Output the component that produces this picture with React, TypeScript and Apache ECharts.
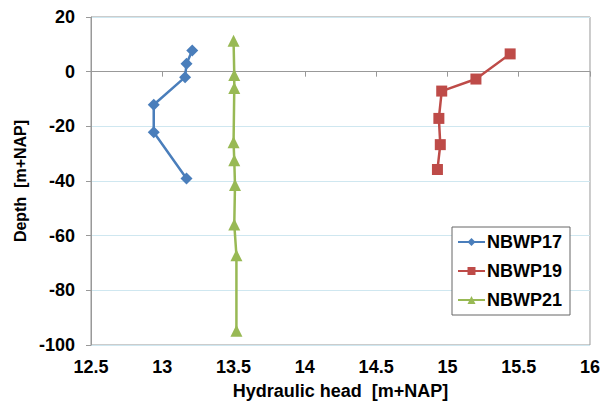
import React, { useEffect, useRef } from "react";
import * as echarts from "echarts";

const seriesNames = ["NBWP17", "NBWP19", "NBWP21"];
const nbwp17Head = [13.21, 13.17, 13.16, 12.94, 12.94, 13.17];
const nbwp17Depth = [7.7, 2.9, -2, -12.1, -22.2, -39.1];
const nbwp19Head = [15.44, 15.2, 14.96, 14.94, 14.95, 14.93];
const nbwp19Depth = [6.5, -2.7, -7.1, -17.1, -26.7, -35.8];
const nbwp21Head = [13.5, 13.505, 13.505, 13.5, 13.505, 13.51, 13.505, 13.52, 13.52];
const nbwp21Depth = [11.3, -1.2, -6, -25.8, -32.4, -41.5, -55.9, -67.2, -94.8];
const colors = ["#4a7ebb", "#be4b48", "#98b954"];
const symbols = ["diamond", "rect", "triangle"];

const pairs = (xs: number[], ys: number[]) => xs.map((x, i) => [x, ys[i]]);

export default function App() {
  const ref = useRef<HTMLDivElement>(null);
  useEffect(() => {
    const chart = echarts.init(ref.current!, null, { renderer: "svg" });
    const datasets = [
      pairs(nbwp17Head, nbwp17Depth),
      pairs(nbwp19Head, nbwp19Depth),
      pairs(nbwp21Head, nbwp21Depth),
    ];
    const font = "Liberation Sans, Arial, sans-serif";
    chart.setOption({
      animation: false,
      textStyle: { fontFamily: font },
      grid: {
        left: 91,
        right: 10,
        top: 17,
        bottom: 59,
        show: true,
        borderColor: "#999",
        borderWidth: 1,
      },
      legend: {
        orient: "vertical",
        left: 452,
        top: 227,
        width: 121,
        height: 89,
        itemWidth: 27,
        itemHeight: 10,
        itemGap: 11,
        padding: [6, 8, 6, 5],
        borderColor: "#666",
        borderWidth: 1,
        backgroundColor: "#fff",
        textStyle: { fontFamily: font, fontSize: 18, fontWeight: "bold", color: "#000", padding: [0, 0, 0, -3] },
        data: seriesNames,
      },
      xAxis: {
        type: "value",
        min: 12.5,
        max: 16,
        interval: 0.5,
        name: "Hydraulic head  [m+NAP]",
        nameLocation: "middle",
        nameGap: 37,
        nameTextStyle: { fontFamily: font, fontSize: 18, fontWeight: "bold", color: "#000" },
        axisLine: { show: true, lineStyle: { color: "#999" } },
        axisTick: { show: true, length: 5, lineStyle: { color: "#999" } },
        axisLabel: { fontFamily: font, fontSize: 18, fontWeight: "bold", color: "#000", margin: 13 },
        splitLine: { show: false },
      },
      yAxis: {
        type: "value",
        min: -100,
        max: 20,
        interval: 20,
        name: "Depth  [m+NAP]",
        nameLocation: "middle",
        nameGap: 63,
        nameTextStyle: { fontFamily: font, fontSize: 16, fontWeight: "bold", color: "#000" },
        axisLine: { show: true, lineStyle: { color: "#999" } },
        axisTick: { show: true, length: 5, lineStyle: { color: "#999" } },
        axisLabel: { fontFamily: font, fontSize: 18, fontWeight: "bold", color: "#000", margin: 16 },
        splitLine: { show: true, lineStyle: { color: "#cfe7f0", width: 1 } },
      },
      series: seriesNames.map((name, i) => ({
        name,
        type: "line",
        data: datasets[i],
        symbol: symbols[i],
        symbolSize: i === 0 ? 12 : i === 1 ? 11 : 12,
        color: colors[i],
        lineStyle: { width: 2.5, color: colors[i] },
        itemStyle: { color: colors[i] },
      })),
    });
    return () => chart.dispose();
  }, []);
  return <div ref={ref} style={{ width: 603, height: 405, position: "absolute", left: 0, top: 0 }} />;
}
